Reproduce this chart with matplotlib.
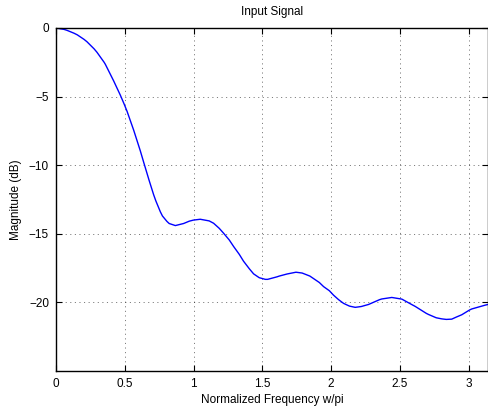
import numpy as np
import matplotlib
matplotlib.use("Agg")
import matplotlib.pyplot as plt

plt.rcParams['font.family'] = ['Liberation Sans', 'DejaVu Sans']
plt.rcParams['lines.scale_dashes'] = False

# Values (normalized frequency, magnitude dB)
freq = [0.0, 0.058, 0.08, 0.131, 0.155, 0.204, 0.225, 0.277, 0.298, 0.35,
        0.359, 0.419, 0.468, 0.495, 0.517, 0.565, 0.613, 0.641, 0.662, 0.677,
        0.71, 0.726, 0.759, 0.774, 0.807, 0.823, 0.868, 0.928, 0.969, 1.0,
        1.049, 1.114, 1.146, 1.187, 1.219, 1.26, 1.292, 1.333, 1.364, 1.406,
        1.437, 1.478, 1.522, 1.539, 1.606, 1.624, 1.68, 1.745, 1.79, 1.846,
        1.915, 1.946, 1.988, 2.018, 2.055, 2.091, 2.134, 2.176, 2.22, 2.273,
        2.353, 2.369, 2.442, 2.515, 2.595, 2.612, 2.693, 2.709, 2.765, 2.805,
        2.838, 2.878, 2.911, 2.951, 3.008, 3.023, 3.121, 3.1416]
mag_db = [0.0, -0.1, -0.17, -0.38, -0.5, -0.83, -1.0, -1.52, -1.77, -2.5,
          -2.65, -3.85, -4.9, -5.53, -6.08, -7.45, -8.95, -9.9, -10.6, -11.1,
          -12.15, -12.6, -13.4, -13.7, -14.1, -14.25, -14.4, -14.25, -14.08, -14.0,
          -13.94, -14.06, -14.23, -14.6, -14.96, -15.45, -15.93, -16.5, -17.0, -17.55,
          -17.92, -18.2, -18.32, -18.32, -18.14, -18.08, -17.93, -17.8, -17.86, -18.08,
          -18.55, -18.85, -19.15, -19.47, -19.8, -20.07, -20.27, -20.36, -20.3, -20.15,
          -19.8, -19.75, -19.64, -19.76, -20.2, -20.29, -20.8, -20.88, -21.12, -21.2,
          -21.24, -21.22, -21.07, -20.9, -20.55, -20.48, -20.2, -20.15]

xticks = [0, 0.5, 1, 1.5, 2, 2.5, 3]
xticklabels = ['0', '0.5', '1', '1.5', '2', '2.5', '3']
yticks = [-20, -15, -10, -5, 0]

fig = plt.figure(figsize=(4.89, 4.11), dpi=100)
ax = fig.add_axes([56/489, 40/411, 432/489, 343/411])

ax.plot(freq, mag_db, color=(0, 0, 1), lw=1.0, solid_joinstyle='round')

ax.set_xlim(0, np.pi)
ax.set_ylim(-25, 0)
ax.set_xticks(xticks)
ax.set_xticklabels(xticklabels)
ax.set_yticks(yticks)
ax.grid(True, color='black', linestyle=(0, (0.8, 2.5)), lw=0.6, alpha=0.6)
ax.tick_params(direction='in', top=True, right=True, labelsize=8.5, length=4,
               width=0.8, pad=5)
for s in ax.spines.values():
    s.set_linewidth(1.0)

ax.set_xlabel('Normalized Frequency w/pi', fontsize=8.5, labelpad=3)
ax.set_ylabel('Magnitude (dB)', fontsize=8.5, labelpad=5)
ax.set_title('Input Signal', fontsize=8.5, pad=9)

fig.savefig('out.png', dpi=100)
